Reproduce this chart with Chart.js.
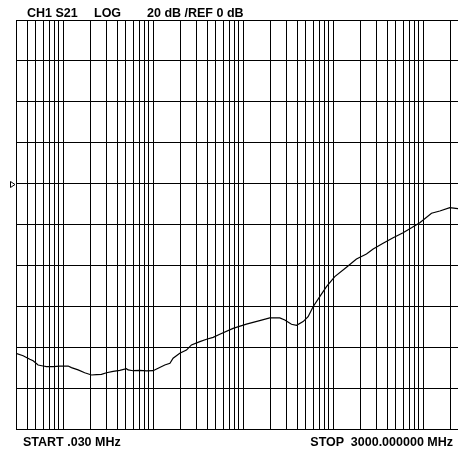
<!DOCTYPE html>
<html>
<head>
<meta charset="utf-8">
<script src="https://cdn.jsdelivr.net/npm/chart.js@4/dist/chart.umd.min.js"></script>
<style>
  html, body { margin: 0; padding: 0; overflow: hidden; background: #fff; }
  #contenedor { position: relative; width: 458px; height: 451px; overflow: hidden; }
  canvas { position: absolute; left: 0; top: 0; }
  .texto {
    position: absolute;
    font-family: "Liberation Sans", Arial, sans-serif;
    font-weight: bold;
    font-size: 12.5px;
    line-height: 12px;
    color: #000;
    white-space: pre;
  }
</style>
</head>
<body>
<div id="contenedor">
  <canvas id="graficoS21" width="470" height="451"></canvas>
  <span class="texto" style="left:27px; top:7px;">CH1 S21</span>
  <span class="texto" style="left:94px; top:7px;">LOG</span>
  <span class="texto" style="left:147px; top:7px;">20 dB /REF 0 dB</span>
  <span class="texto" style="left:23px; top:436px;">START .030 MHz</span>
  <span class="texto" style="right:5px; top:436px;">STOP  3000.000000 MHz</span>
</div>
<script>
// barrido 0.030 MHz - 3000 MHz, eje log
const FREC_INICIO = 0.03;
const FREC_FIN = 3000;

// divisiones verticales: 20 dB/div, REF 0 dB en la 4ta division
const DB_MIN = -120;
const DB_MAX = 80;
const DB_PASO = 20;
const DB_REFERENCIA = 0;

// reticula logaritmica
const DECADAS = [0.01, 0.1, 1, 10, 100, 1000];
const MULTIPLOS = [1, 2, 3, 4, 5, 6, 7, 8, 9];

const frecuencias = [
  0.03, 0.036, 0.0427, 0.0465, 0.0528, 0.06, 0.0654, 0.0775, 0.092, 0.114,
  0.124, 0.147, 0.174, 0.207, 0.235, 0.267, 0.304, 0.36, 0.427, 0.507,
  0.528, 0.6, 0.712, 0.846, 1.0, 1.14, 1.35, 1.54, 1.67, 1.98,
  2.35, 2.67, 3.31, 3.93, 4.65, 5.51, 7.75, 10.9, 15.3, 19.8,
  25.6, 29.1, 34.5, 39.3, 46.5, 52.8, 60, 71.2, 84.5, 104.5,
  141, 182, 235, 279, 360, 465, 600, 744, 920, 1241,
  1535, 1982, 2433, 3000,
];
const nivelesDb = [
  -83.0, -84.2, -85.9, -86.6, -88.7, -89.2, -89.5, -89.5, -89.3, -89.2,
  -90.0, -91.1, -92.5, -93.6, -93.4, -93.3, -92.5, -91.8, -91.3, -90.5,
  -91.1, -91.5, -91.3, -91.6, -91.5, -90.3, -88.7, -87.9, -85.4, -83.0,
  -81.4, -78.9, -77.3, -76.1, -75.2, -73.7, -70.8, -68.7, -67.0, -65.7,
  -65.7, -66.7, -68.8, -69.3, -67.5, -65.1, -60.2, -55.3, -50.4, -45.5,
  -40.9, -36.9, -34.4, -32.0, -29.2, -26.5, -24.0, -21.6, -19.1, -14.5,
  -13.4, -11.8, -12.2, -12.6,
];

const lineasFrecuencia = [FREC_INICIO];
DECADAS.forEach((d) => {
  MULTIPLOS.forEach((m) => {
    const f = Number((d * m).toPrecision(3));
    if (f > FREC_INICIO && f < FREC_FIN) lineasFrecuencia.push(f);
  });
});
lineasFrecuencia.push(FREC_FIN);

// marcador de referencia (triangulo a la izquierda)
const marcadorReferencia = {
  id: "marcadorReferencia",
  afterDraw: (chart) => {
    const { ctx, chartArea, scales } = chart;
    const y = Math.round(scales.y.getPixelForValue(DB_REFERENCIA)) + 0.5;
    const x = chartArea.left - 1;
    ctx.save();
    ctx.strokeStyle = "#000";
    ctx.lineWidth = 1;
    ctx.beginPath();
    ctx.moveTo(x - 4.5, y - 3);
    ctx.lineTo(x, y);
    ctx.lineTo(x - 4.5, y + 3);
    ctx.closePath();
    ctx.stroke();
    ctx.restore();
  },
};

new Chart(document.getElementById("graficoS21"), {
  type: "line",
  data: {
    datasets: [
      {
        data: frecuencias.map((f, i) => ({ x: f, y: nivelesDb[i] })),
        borderColor: "#000",
        borderWidth: 1.2,
        pointRadius: 0,
        tension: 0,
        fill: false,
      },
    ],
  },
  options: {
    responsive: false,
    animation: false,
    events: [],
    layout: { padding: { left: 16, top: 20, right: 4, bottom: 22 } },
    plugins: {
      legend: { display: false },
      tooltip: { enabled: false },
    },
    scales: {
      x: {
        type: "logarithmic",
        min: FREC_INICIO,
        max: FREC_FIN,
        afterBuildTicks: (scale) => {
          scale.ticks = lineasFrecuencia.map((v) => ({ value: v }));
        },
        ticks: { display: false },
        grid: { color: "#000", lineWidth: 1, drawTicks: false },
        border: { display: false },
      },
      y: {
        min: DB_MIN,
        max: DB_MAX,
        ticks: { display: false, stepSize: DB_PASO },
        grid: { color: "#000", lineWidth: 1, drawTicks: false },
        border: { display: false },
      },
    },
  },
  plugins: [marcadorReferencia],
});
</script>
</body>
</html>
